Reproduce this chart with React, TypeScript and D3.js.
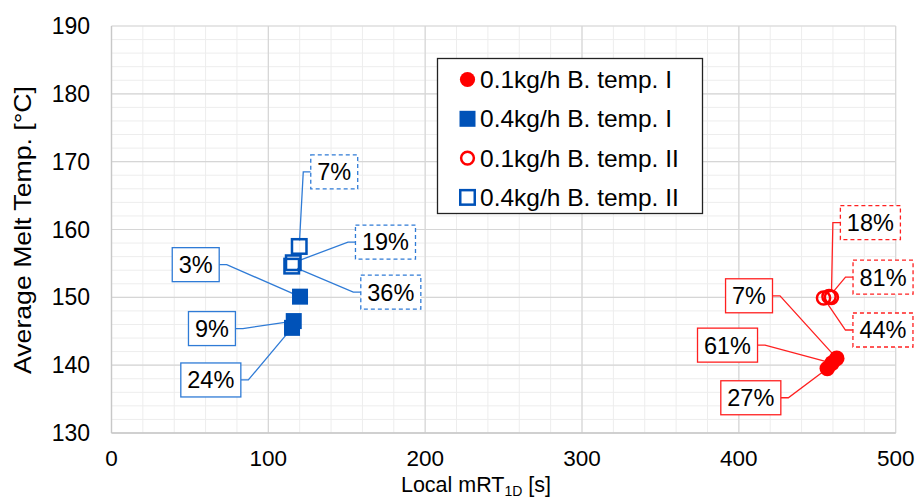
import React from "react";
import * as d3 from "d3";

// ---------- data ----------
const seriesNames = [
  "0.1kg/h B. temp. I",
  "0.4kg/h B. temp. I",
  "0.1kg/h B. temp. II",
  "0.4kg/h B. temp. II",
];

// 0.1 kg/h, B. temp. I (filled red circles)
const mrtRedI = [462.4, 459.4, 456.4];
const tempRedI = [141.0, 140.3, 139.5];
const labRedI = ["7%", "61%", "27%"];

// 0.4 kg/h, B. temp. I (filled blue squares)
const mrtBlueI = [120.2, 116.2, 115.1];
const tempBlueI = [150.1, 146.5, 145.5];
const labBlueI = ["3%", "9%", "24%"];

// 0.1 kg/h, B. temp. II (open red circles)
const mrtRedII = [459.0, 457.5, 454.0];
const tempRedII = [150.0, 150.1, 149.9];
const labRedII = ["18%", "81%", "44%"];

// 0.4 kg/h, B. temp. II (open blue squares)
const mrtBlueII = [119.7, 115.9, 114.9];
const tempBlueII = [157.5, 155.1, 154.6];
const labBlueII = ["7%", "19%", "36%"];

const xTicks = [0, 100, 200, 300, 400, 500];
const yTicks = [130, 140, 150, 160, 170, 180, 190];

// ---------- layout (label offsets in px from the point) ----------
const offRedI = [[-87.7, -62.6], [-104.5, -18], [-76.5, 29.2]];
const offBlueI = [[-104.3, -32], [-81.8, 7.5], [-81.2, 52.1]];
const offRedII = [[39, -74.7], [54, -19.5], [59.4, 32]];
const offBlueII = [[35, -74.5], [92.2, -20.7], [99.1, 26]];

const W = 919;
const H = 498;
const RED = "#ff0000";
const BLUE = "#0052b8";
const BLUE_LAB = "#2f7bd6";
const RED_LAB = "#ff2020";
const FONT = "Arial, 'Liberation Sans', Helvetica, sans-serif";

const x = d3.scaleLinear().domain([0, 500]).range([111.5, 895.7]);
const y = d3.scaleLinear().domain([130, 190]).range([433, 26]);

const LAB_FS = 23.5;
function textW(s: string) {
  let w = 0;
  for (const c of s) w += c === "%" ? 0.889 : 0.556;
  return w * LAB_FS;
}

type Series = {
  xs: number[];
  ys: number[];
  labs: string[];
  offs: number[][];
  shape: "circle" | "square";
  filled: boolean;
  color: string;
  labColor: string;
};

const series: Series[] = [
  { xs: mrtBlueII, ys: tempBlueII, labs: labBlueII, offs: offBlueII, shape: "square", filled: false, color: BLUE, labColor: BLUE_LAB },
  { xs: mrtBlueI, ys: tempBlueI, labs: labBlueI, offs: offBlueI, shape: "square", filled: true, color: BLUE, labColor: BLUE_LAB },
  { xs: mrtRedII, ys: tempRedII, labs: labRedII, offs: offRedII, shape: "circle", filled: false, color: RED, labColor: RED_LAB },
  { xs: mrtRedI, ys: tempRedI, labs: labRedI, offs: offRedI, shape: "circle", filled: true, color: RED, labColor: RED_LAB },
];

function Marker({ cx, cy, shape, filled, color, small }: any) {
  if (shape === "circle") {
    return filled ? (
      <circle cx={cx} cy={cy} r={small ? 7.6 : 7.8} fill={color} />
    ) : (
      <circle cx={cx} cy={cy} r={small ? 6.4 : 6.6} fill="none" stroke={color} strokeWidth={2.5} />
    );
  }
  const s = filled ? 16 : 14.5;
  return filled ? (
    <rect x={cx - s / 2} y={cy - s / 2} width={s} height={s} fill={color} />
  ) : (
    <rect x={cx - s / 2} y={cy - s / 2} width={s} height={s} fill="none" stroke={color} strokeWidth={2.5} />
  );
}

export default function App() {
  const xMinor = d3.range(0, 501, 20);
  const yMinor = d3.range(130, 191, 2);

  const leaders: any[] = [];
  const boxes: any[] = [];
  const markers: any[] = [];

  series.forEach((s, si) => {
    s.xs.forEach((v, i) => {
      const px = x(v);
      const py = y(s.ys[i]);
      const [dx, dy] = s.offs[i];
      const bcx = px + dx;
      const bcy = py + dy;
      const bw = textW(s.labs[i]) + 13;
      const bh = 34;
      const leftSide = bcx < px;
      const sx = leftSide ? bcx + bw / 2 : bcx - bw / 2;
      const ex = leftSide ? sx + 7.5 : sx - 7.5;
      const ddx = px - ex;
      const ddy = py - bcy;
      const len = Math.hypot(ddx, ddy);
      const cut = s.filled ? 2 : 6;
      const tx = px - (ddx / len) * cut;
      const ty = py - (ddy / len) * cut;
      leaders.push(
        <polyline
          key={`l${si}-${i}`}
          points={`${sx},${bcy} ${ex},${bcy} ${tx},${ty}`}
          fill="none"
          stroke={s.labColor}
          strokeWidth={1.3}
        />
      );
      boxes.push(
        <g key={`b${si}-${i}`}>
          <rect
            x={bcx - bw / 2}
            y={bcy - bh / 2}
            width={bw}
            height={bh}
            fill="#fff"
            stroke={s.labColor}
            strokeWidth={1.3}
            strokeDasharray={s.filled ? undefined : "4,3"}
          />
          <text
            x={bcx}
            y={bcy + LAB_FS * 0.36}
            textAnchor="middle"
            fontSize={LAB_FS}
            fontFamily={FONT}
            fill="#000"
          >
            {s.labs[i]}
          </text>
        </g>
      );
      markers.push(
        <Marker key={`m${si}-${i}`} cx={px} cy={py} shape={s.shape} filled={s.filled} color={s.color} />
      );
    });
  });

  const legendItems = [
    { name: seriesNames[0], shape: "circle", filled: true, color: RED },
    { name: seriesNames[1], shape: "square", filled: true, color: BLUE },
    { name: seriesNames[2], shape: "circle", filled: false, color: RED },
    { name: seriesNames[3], shape: "square", filled: false, color: BLUE },
  ];

  return (
    <svg
      width={W}
      height={H}
      style={{ position: "absolute", left: 0, top: 0, background: "#fff" }}
      fontFamily={FONT}
    >
      <rect x={0} y={0} width={W} height={H} fill="#fff" />
      {/* minor grid */}
      {xMinor.map((v) => (
        <line key={`xm${v}`} x1={x(v)} x2={x(v)} y1={y(190)} y2={y(130)} stroke="#ededed" strokeWidth={1} />
      ))}
      {yMinor.map((v) => (
        <line key={`ym${v}`} x1={x(0)} x2={x(500)} y1={y(v)} y2={y(v)} stroke="#ededed" strokeWidth={1} />
      ))}
      {/* major grid */}
      {xTicks.map((v) => (
        <line key={`xM${v}`} x1={x(v)} x2={x(v)} y1={y(190)} y2={y(130)} stroke="#d6d6d6" strokeWidth={1.2} />
      ))}
      {yTicks.map((v) => (
        <line key={`yM${v}`} x1={x(0)} x2={x(500)} y1={y(v)} y2={y(v)} stroke="#d6d6d6" strokeWidth={1.2} />
      ))}
      <line x1={x(0)} x2={x(0)} y1={y(190)} y2={y(130)} stroke="#c8c8c8" strokeWidth={1.3} />
      <line x1={x(0)} x2={x(500)} y1={y(130)} y2={y(130)} stroke="#c8c8c8" strokeWidth={1.3} />

      {/* tick labels */}
      {yTicks.map((v) => (
        <text key={`yt${v}`} x={90} y={y(v) + 8} textAnchor="end" fontSize={23} fill="#000">
          {v}
        </text>
      ))}
      {xTicks.map((v) => (
        <text key={`xt${v}`} x={x(v)} y={466} textAnchor="middle" fontSize={22.5} fill="#000">
          {v}
        </text>
      ))}

      {/* axis titles */}
      <text x={476} y={492} textAnchor="middle" fontSize={21.5} fill="#000">
        Local mRT
        <tspan fontSize={14} dy={4}>1D</tspan>
        <tspan dy={-4}> [s]</tspan>
      </text>
      <text
        transform={`translate(31,230) rotate(-90)`}
        textAnchor="middle"
        fontSize={24}
        fill="#000"
        textLength={288}
        lengthAdjust="spacingAndGlyphs"
      >
        Average Melt Temp. [°C]
      </text>

      {leaders}
      {markers}
      {boxes}

      {/* legend */}
      <rect x={437.5} y={58.5} width={265} height={155} fill="#fff" stroke="#222" strokeWidth={1.3} />
      {legendItems.map((it, i) => {
        const cy = 79.5 + i * 39.3;
        return (
          <g key={`lg${i}`}>
            <Marker cx={467.5} cy={cy} shape={it.shape} filled={it.filled} color={it.color} small />
            <text x={480} y={cy + 8.5} fontSize={24.5} fill="#000">
              {it.name}
            </text>
          </g>
        );
      })}
    </svg>
  );
}
